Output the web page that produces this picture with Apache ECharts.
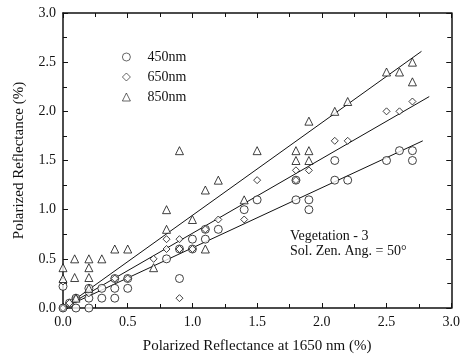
<!DOCTYPE html>
<html>
<head>
<meta charset="utf-8">
<script src="https://cdn.jsdelivr.net/npm/echarts@6/dist/echarts.min.js"></script>
<style>
html,body{margin:0;padding:0;background:#fff;}
#chart{width:463px;height:359px;}
</style>
</head>
<body>
<div id="chart"></div>
<script>
// ---- Data ----
const seriesNames = ['450nm', '650nm', '850nm'];
const xTicks = [0.0, 0.5, 1.0, 1.5, 2.0, 2.5, 3.0];
const yTicks = [0.0, 0.5, 1.0, 1.5, 2.0, 2.5, 3.0];

const pts450 = [
  [0,0],[0.1,0],[0.2,0],[0,0.22],[0.05,0.05],[0.1,0.1],[0.2,0.1],[0.2,0.2],
  [0.3,0.1],[0.3,0.2],[0.4,0.1],[0.4,0.2],[0.4,0.3],[0.5,0.2],[0.5,0.3],
  [0.9,0.3],[0.8,0.5],[0.9,0.6],[1.0,0.6],[1.0,0.7],[1.1,0.7],[1.1,0.8],[1.2,0.8],
  [1.4,1.0],[1.5,1.1],[1.8,1.1],[1.8,1.3],[1.9,1.0],[1.9,1.1],[2.1,1.3],[2.2,1.3],
  [2.1,1.5],[2.5,1.5],[2.6,1.6],[2.7,1.6],[2.7,1.5]
];
const pts650 = [
  [0,0],[0,0.27],[0.05,0.05],[0.1,0.1],[0.2,0.15],[0.4,0.3],[0.5,0.3],[0.9,0.1],
  [0.7,0.5],[0.8,0.6],[0.8,0.7],[0.9,0.6],[0.9,0.7],[1.0,0.6],[1.1,0.8],[1.2,0.9],
  [1.4,0.9],[1.5,1.3],[1.8,1.3],[1.8,1.4],[1.9,1.4],[2.1,1.7],[2.2,1.7],
  [2.5,2.0],[2.6,2.0],[2.7,2.1]
];
const pts850 = [
  [0,0.3],[0,0.41],[0.09,0.31],[0.09,0.5],[0.2,0.31],[0.2,0.41],[0.2,0.5],[0.3,0.5],
  [0.4,0.6],[0.5,0.6],[0.7,0.41],[0.8,0.8],[0.8,1.0],[0.9,1.6],[1.0,0.9],[1.1,1.2],
  [1.2,1.3],[1.4,1.1],[1.5,1.6],[1.8,1.5],[1.8,1.6],[1.9,1.5],[1.9,1.6],[1.9,1.9],
  [2.1,2.0],[2.2,2.1],[2.5,2.4],[2.6,2.4],[2.7,2.5],[2.7,2.3],[0.1,0.1],[0.2,0.2],[1.1,0.6]
];
// regression line end points
const fit450 = [[0,0],[2.78,1.70]];
const fit650 = [[0,0],[2.83,2.15]];
const fit850 = [[0,0],[2.77,2.61]];

const annotation = ['Vegetation - 3', 'Sol. Zen. Ang. = 50°'];
const xName = 'Polarized Reflectance at 1650 nm (%)';
const yName = 'Polarized Reflectance (%)';

// ---- Chart ----
const FONT = '"Liberation Serif", "DejaVu Serif", serif';
const INK = '#111';
const chart = echarts.init(document.getElementById('chart'), null, {renderer:'canvas'});

function axisCommon(showLabel, pos) {
  return {
    type: 'value', min: 0, max: 3, interval: 0.5, position: pos,
    axisLine: {show: true, onZero: false, lineStyle: {color: INK, width: 1.5}},
    axisTick: {show: true, inside: true, length: 5, lineStyle: {color: INK}},
    minorTick: {show: true, splitNumber: 2, length: 4, lineStyle: {color: INK}},
    splitLine: {show: false},
    axisLabel: {show: showLabel, color: INK, fontFamily: FONT, fontSize: 14, margin: 7,
                formatter: v => v.toFixed(1)}
  };
}

const scatterBase = {
  type: 'scatter', color: INK, silent: true,
  itemStyle: {color: '#fff', borderColor: INK, borderWidth: 1},
  xAxisIndex: 0, yAxisIndex: 0, z: 3
};
const lineBase = {
  type: 'line', symbol: 'none', silent: true,
  lineStyle: {color: INK, width: 1}, xAxisIndex: 0, yAxisIndex: 0, z: 2
};

chart.setOption({
  animation: false,
  grid: {left: 63, right: 10, top: 13, bottom: 46},
  xAxis: [
    Object.assign(axisCommon(true, 'bottom'), {
      name: xName, nameLocation: 'middle', nameGap: 31,
      nameTextStyle: {color: INK, fontFamily: FONT, fontSize: 15}
    }),
    axisCommon(false, 'top')
  ],
  yAxis: [
    Object.assign(axisCommon(true, 'left'), {
      name: yName, nameLocation: 'middle', nameGap: 36,
      nameTextStyle: {color: INK, fontFamily: FONT, fontSize: 15}
    }),
    axisCommon(false, 'right')
  ],
  legend: {
    orient: 'vertical', left: 117, top: 45, itemWidth: 8, itemHeight: 8, itemGap: 6,
    data: seriesNames,
    itemStyle: {color: '#fff', borderColor: INK, borderWidth: 0.8},
    textStyle: {color: INK, fontFamily: FONT, fontSize: 14, padding: [0,0,0,12]},
    selectedMode: false
  },
  graphic: [
    {type: 'text', left: 290, top: 229, style: {text: annotation[0], font: '14px ' + FONT, fill: INK}},
    {type: 'text', left: 290, top: 244, style: {text: annotation[1], font: '14px ' + FONT, fill: INK}}
  ],
  series: [
    Object.assign({}, lineBase, {name: 'fit450', data: fit450}),
    Object.assign({}, lineBase, {name: 'fit650', data: fit650}),
    Object.assign({}, lineBase, {name: 'fit850', data: fit850}),
    Object.assign({}, scatterBase, {name: seriesNames[0], symbol: 'circle', symbolSize: 8, data: pts450}),
    Object.assign({}, scatterBase, {name: seriesNames[1], symbol: 'diamond', symbolSize: 7, data: pts650}),
    Object.assign({}, scatterBase, {name: seriesNames[2], symbol: 'triangle', symbolSize: 8, data: pts850})
  ]
});
</script>
</body>
</html>
